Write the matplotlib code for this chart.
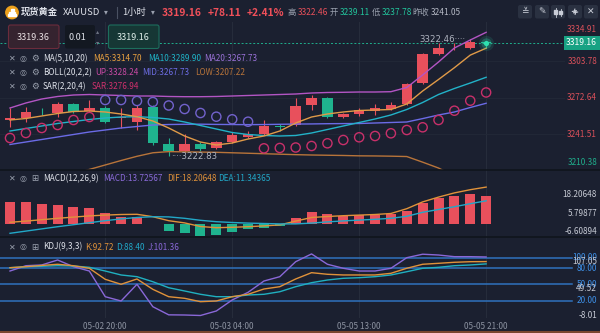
import matplotlib
matplotlib.use("Agg")
import matplotlib.pyplot as plt
import numpy as np
from matplotlib.patches import FancyBboxPatch, Circle, Rectangle
from matplotlib.transforms import blended_transform_factory

plt.rcParams["font.family"] = ["Noto Sans CJK SC", "DejaVu Sans"]

# hourly XAUUSD candles, 05-02 14:00 .. 05-05 21:00
opens = [3253.46, 3255.17, 3261.14, 3259.43, 3267.11, 3261.14, 3263.70, 3255.00,
         3251.76, 3264.55, 3232.99, 3227.02, 3232.99, 3229.58, 3234.70, 3239.11,
         3241.52, 3248.30, 3249.20, 3266.26, 3272.23, 3256.02, 3258.58, 3261.14,
         3262.85, 3267.11, 3285.02, 3309.75, 3314.50, 3314.87, 3319.36]
highs = [3263.70, 3264.55, 3263.70, 3268.81, 3267.60, 3270.52, 3265.50, 3263.70,
         3266.26, 3266.26, 3238.11, 3241.52, 3234.70, 3235.60, 3243.23, 3244.50,
         3253.46, 3250.00, 3272.23, 3274.78, 3273.08, 3259.43, 3263.70, 3267.11,
         3268.81, 3285.02, 3310.60, 3319.14, 3319.50, 3322.46, 3319.60]
lows = [3247.49, 3251.76, 3257.73, 3256.02, 3259.80, 3260.29, 3251.00, 3246.64,
        3244.93, 3232.14, 3222.83, 3226.17, 3227.02, 3228.73, 3233.85, 3237.78,
        3240.67, 3244.10, 3248.34, 3261.99, 3255.17, 3255.17, 3256.87, 3257.73,
        3261.99, 3266.26, 3284.17, 3308.90, 3313.20, 3314.00, 3314.50]
closes = [3255.17, 3260.29, 3260.80, 3267.11, 3260.29, 3263.70, 3251.76, 3255.30,
          3263.70, 3233.85, 3227.02, 3232.99, 3228.73, 3234.70, 3241.05, 3241.30,
          3248.34, 3247.60, 3265.40, 3272.23, 3256.02, 3258.58, 3261.99, 3263.70,
          3266.26, 3284.17, 3309.75, 3314.87, 3315.20, 3319.99, 3319.16]

ma5 = [3253.46, 3254.74, 3256.87, 3259.01, 3260.71, 3261.14, 3260.29, 3258.58,
       3256.28, 3252.61, 3246.64, 3239.81, 3234.70, 3232.14, 3233.85, 3237.26,
       3239.81, 3244.08, 3250.90, 3256.02, 3258.58, 3260.29, 3261.57, 3261.99,
       3262.42, 3267.11, 3278.20, 3288.00, 3298.07, 3308.82, 3314.70]
ma10 = [3244.08, 3246.21, 3248.34, 3250.48, 3252.18, 3253.89, 3255.17, 3256.02,
        3256.28, 3255.59, 3254.31, 3251.76, 3248.77, 3245.79, 3242.80, 3241.09,
        3240.24, 3239.81, 3240.24, 3242.37, 3245.36, 3248.34, 3251.33, 3254.31,
        3257.73, 3262.42, 3268.39, 3275.21, 3280.33, 3285.02, 3289.90]
boll_mid = [3232.57, 3234.70, 3236.83, 3238.96, 3241.09, 3243.23, 3244.93, 3246.64,
            3247.92, 3249.20, 3249.62, 3249.80, 3249.90, 3249.70, 3249.60, 3249.50,
            3249.60, 3249.80, 3250.00, 3250.10, 3250.30, 3250.40, 3250.48, 3250.90,
            3251.33, 3251.76, 3254.66, 3257.73, 3260.29, 3264.12, 3267.73]
boll_up = [3263.70, 3267.96, 3271.37, 3273.51, 3274.78, 3275.21, 3274.78, 3274.36,
           3273.93, 3273.93, 3273.51, 3273.33, 3273.33, 3273.51, 3273.93, 3274.36,
           3274.78, 3275.21, 3275.64, 3276.49, 3276.92, 3277.09, 3277.34, 3277.34,
           3277.60, 3281.18, 3291.84, 3302.93, 3314.87, 3321.69, 3328.24]
boll_low = [3201.4, 3201.4, 3202.3, 3204.4, 3207.4, 3211.3, 3215.1, 3218.9,
            3222.5, 3225.5, 3226.5, 3226.3, 3226.1, 3225.9, 3225.5, 3225.1,
            3224.7, 3224.3, 3223.9, 3223.6, 3223.4, 3223.2, 3222.9, 3222.8,
            3222.6, 3222.3, 3217.5, 3212.5, 3205.7, 3206.6, 3207.22]
sar = [3238.11, 3242.37, 3246.64, 3249.20, 3253.46, 3256.02, 3270.52, 3270.52,
       3269.67, 3268.81, 3265.83, 3262.84, 3259.43, 3256.28, 3254.06, 3252.01,
       3229.30, 3229.60, 3230.00, 3231.29, 3233.59, 3236.40, 3238.71, 3239.81,
       3242.12, 3244.93, 3247.24, 3253.46, 3261.39, 3269.92, 3276.94]

macd_hist = [10.6, 10.6, 9.6, 9.25, 8.4, 7.6, 5.1, 3.4, 3.4, -0.3, -3.75, -4.9,
             -6.1, -5.75, -4.1, -2.9, -2.1, -1.25, 2.9, 5.6, 4.6, 3.9, 4.25, 4.25,
             4.6, 6.25, 10.4, 12.9, 13.75, 14.6, 13.72567]
dif = [0.6, 1.2, 1.9, 2.6, 3.2, 3.8, 4.2, 4.5, 4.6, 3.4, 1.4, 0.3, -1.5, -2.1,
       -1.9, -1.6, -1.2, -0.7, 1.2, 3.0, 3.5, 3.9, 4.2, 4.5, 5.0, 7.4, 10.8, 13.2,
       15.3, 16.9, 18.20648]
dea = [-4.9, -3.8, -2.7, -1.6, -0.6, 0.4, 1.4, 2.3, 3.0, 3.4, 3.3, 2.6, 1.6, 0.9,
       0.5, 0.2, 0.0, -0.2, -0.2, 0.2, 0.8, 1.3, 1.7, 2.1, 2.6, 3.6, 5.6, 7.0, 8.4,
       9.9, 11.34365]

k_line = [81.3, 83.2, 85.5, 87.7, 85.0, 80.2, 59.6, 50.3, 60.2, 40.9, 27.1, 24.1,
          17.8, 19.1, 27.1, 31.6, 41.5, 45.8, 60.2, 72.0, 69.0, 67.7, 67.7, 67.7,
          70.8, 80.2, 87.7, 89.5, 91.4, 92.5, 92.72]
d_line = [81.3, 83.2, 84.0, 85.0, 84.5, 82.0, 75.1, 67.7, 64.5, 55.1, 43.9, 37.8,
          31.6, 27.1, 27.1, 30.3, 31.6, 36.4, 45.8, 53.3, 58.3, 61.5, 62.6, 64.5,
          67.7, 73.8, 80.2, 82.0, 85.0, 86.4, 88.40]
j_line = [75.1, 85.0, 86.4, 95.7, 83.2, 75.1, 27.1, 19.1, 50.3, 8.4, -6.8, -7.1,
          -8.01, 0.4, 21.0, 35.3, 56.4, 64.5, 92.5, 107.05, 87.7, 80.2, 75.1, 75.1,
          80.2, 100.0, 106.5, 105.0, 101.9, 101.9, 101.36]

time_ticks = [6, 14, 22, 30]
time_labels = ["05-02 20:00", "05-03 04:00", "05-05 13:00", "05-05 21:00"]
price_ticks = [3303.78, 3272.64, 3241.51]
kdj_levels = [100, 80, 50, 20]

BG = "#1b2030"
GRID = "#262c3b"
RED = "#e8505c"
GREEN = "#1fb38e"
TXT = "#dfe2ea"
GRAY = "#9aa0ae"
FS = 5.9
W, H = 600, 333


def rect(x0, y0, x1, y1):
    return [x0 / W, 1 - y1 / H, (x1 - x0) / W, (y1 - y0) / H]


def prep(ax):
    ax.set_facecolor(BG)
    ax.set_xlim(-0.63, 34.97)
    for s in ax.spines.values():
        s.set_visible(False)
    ax.set_yticks([])
    ax.set_xticks(time_ticks)
    ax.tick_params(length=0, labelbottom=False)
    for t in time_ticks:
        ax.axvline(t, color=GRID, lw=0.8, zorder=0)


fig = plt.figure(figsize=(6, 3.33), dpi=100, facecolor=BG)
x = np.arange(len(closes))
o, h, l, c = map(np.array, (opens, highs, lows, closes))
up = c >= o
ccol = np.where(up, RED, GREEN)

# ---- price pane
ax = fig.add_axes(rect(0, 22, 565, 169.5))
prep(ax)
ax.set_ylim(3211.24, 3337.05)
for p in price_ticks:
    ax.axhline(p, color="#222837", lw=0.7, zorder=0)
ax.vlines(x, l, h, colors=ccol, lw=0.8, zorder=2)
body = np.maximum(np.abs(c - o), 0.6)
ax.bar(x, body, bottom=np.minimum(o, c), width=0.66, color=ccol, zorder=3)
ax.plot(x, boll_up, color="#b355c4", lw=1.0, zorder=4)
ax.plot(x, boll_low, color="#b8743a", lw=1.0, zorder=4)
ax.plot(x, boll_mid, color="#6b6be6", lw=1.0, zorder=4)
ax.plot(x, ma10, color="#22b2c8", lw=1.0, zorder=4)
ax.plot(x, ma5, color="#e09a48", lw=1.0, zorder=4)
sar = np.array(sar)
scol = np.where(sar < c, "#c8306a", "#7262cc")
ax.scatter(x, sar, s=44, facecolors="none", edgecolors=scol, linewidths=1.0, zorder=5)
ax.axhline(c[-1], color="#1fae8c", lw=0.7, ls=(0, (2, 2)), zorder=1)
for s, a in [(120, 0.12), (55, 0.25), (14, 1.0)]:
    ax.scatter([x[-1]], [c[-1]], s=s, color="#2fe0b0", alpha=a, lw=0, zorder=6)
# high / low markers with dotted leaders
ax.text(x[29] - 0.3, h[29], "%.2f" % h[29] + "····", color="#aeb3bf", fontsize=6.2,
        ha="right", va="center", zorder=7, family=["DejaVu Sans"])
ax.text(x[10] + 0.15, l[10] - 0.5, "····" + "%.2f" % l[10], color="#aeb3bf", fontsize=6.2,
        ha="left", va="center", zorder=7, family=["DejaVu Sans"])
tr = blended_transform_factory(fig.transFigure, ax.transData)
for p in price_ticks:
    ax.text(597 / W, p, "%.2f" % p, transform=tr, color="#d9505a", fontsize=FS,
            ha="right", va="center")
ax.text(597 / W, c[-1], "%.2f" % c[-1], transform=tr, color="white", fontsize=6.2,
        ha="right", va="center",
        bbox=dict(boxstyle="square,pad=0.3", fc="#18a283", ec="none"))

# ---- MACD pane
axm = fig.add_axes(rect(0, 169.5, 565, 236.5))
prep(axm)
axm.set_ylim(-6.5, 27)
hist = np.array(macd_hist)
axm.bar(x, hist, width=0.63, color=np.where(hist >= 0, RED, GREEN), zorder=2)
axm.plot(x, dif, color="#e0923a", lw=1.0, zorder=3)
axm.plot(x, dea, color="#22a8c8", lw=1.0, zorder=3)

# ---- KDJ pane
axk = fig.add_axes(rect(0, 236.5, 565, 318))
prep(axk)
axk.set_ylim(-12.7, 139.6)
for lv in kdj_levels:
    axk.axhline(lv, xmin=0, xmax=572 / 565, color="#2f72bd", lw=1.1, clip_on=False, zorder=1)
axk.plot(x, j_line, color="#8a68d8", lw=1.0, zorder=3)
axk.plot(x, d_line, color="#20b0c0", lw=1.0, zorder=3)
axk.plot(x, k_line, color="#e0923a", lw=1.0, zorder=3)
axk.tick_params(labelbottom=True, labelsize=FS, labelcolor="#8c92a0", pad=3)
axk.set_xticklabels(time_labels)
trk = blended_transform_factory(fig.transFigure, axk.transData)
for lv in kdj_levels:
    axk.text(597 / W, lv, "%.2f" % lv, transform=trk, color="#3d8fe6", fontsize=FS,
             ha="right", va="center")

# ---- overlay: header, legends, axis labels
ov = fig.add_axes([0, 0, 1, 1], zorder=10)
ov.set_xlim(0, W)
ov.set_ylim(H, 0)
ov.axis("off")
ov.patch.set_alpha(0)


def t(xp, yp, s, color=TXT, size=FS, **kw):
    ov.text(xp, yp, s, color=color, fontsize=size, va="center", **kw)


# header row
ov.add_patch(Circle((12, 12.5), 6.2, color="#eea21d"))
for yy, ww in [(10, 3), (12.6, 6), (15.2, 8)]:
    ov.add_patch(Rectangle((12 - ww / 2, yy - 1), ww, 2, color="white"))
t(21, 12.5, "现货黄金", size=6.7, fontweight="bold")
t(62.5, 12.5, "XAUUSD", size=6.9)
t(104, 12.5, "▾", color=GRAY, size=5.5)
ov.plot([116.5, 116.5], [7, 18], color="#4a5162", lw=0.8)
t(122, 12.5, "1小时", size=6.7)
t(151, 12.5, "▾", color=GRAY, size=5.5)
t(162, 12.5, "3319.16", color="#f0505a", size=7.4, fontweight="bold")
t(208, 12.5, "+78.11", color="#f0505a", size=7.4, fontweight="bold")
t(247, 12.5, "+2.41%", color="#f0505a", size=7.4, fontweight="bold")
t(287, 12.5, "高", color=GRAY, size=6.0)
t(298, 12.5, "3322.46", color="#e8505a", size=6.0)
t(330, 12.5, "开", color=GRAY, size=6.0)
t(340, 12.5, "3239.11", color="#22c49c", size=6.0)
t(372, 12.5, "低", color=GRAY, size=6.0)
t(382, 12.5, "3237.78", color="#22c49c", size=6.0)
t(412.5, 12.5, "昨收", color=GRAY, size=6.0)
t(431, 12.5, "3241.05", color="#b4b8c4", size=6.0)

icon_boxes = [(518, 532), (535, 549), (551, 565), (568, 582), (584, 598)]
for x0, x1 in icon_boxes:
    ov.add_patch(FancyBboxPatch((x0, 5), x1 - x0, 13.5, boxstyle="round,pad=0,rounding_size=2",
                                fc="#2a3141", ec="none"))
ic = "#c9cdd7"
ov.text(525, 11.8, "≚", color=ic, fontsize=6.5, ha="center", va="center", family="DejaVu Sans")
ov.text(542, 11.8, "✎", color=ic, fontsize=6.5, ha="center", va="center", family="DejaVu Sans")
# candle icon
for cx, y0, y1, b0, b1 in [(555.5, 7.5, 16.5, 9.5, 14), (560.5, 8.5, 15.5, 10.5, 13.5)]:
    ov.plot([cx, cx], [y0, y1], color=ic, lw=0.6)
    ov.add_patch(Rectangle((cx - 1.3, b0), 2.6, b1 - b0, color=ic))
# expand icon
ov.annotate("", xy=(579, 8), xytext=(571, 15.5),
            arrowprops=dict(arrowstyle="<->,head_length=0.25,head_width=0.15", color=ic, lw=0.8))
ov.text(591, 11.8, "✕", color=ic, fontsize=6.5, ha="center", va="center", family="DejaVu Sans")

# order boxes
ov.add_patch(FancyBboxPatch((8.5, 25), 50.5, 23.5, boxstyle="round,pad=0,rounding_size=2",
                            fc="#35232f", ec="#6b2c3c", lw=0.8))
t(33.5, 37, "3319.36", color="#e8dfe2", size=6.5, ha="center")
ov.add_patch(FancyBboxPatch((65, 25), 30, 23.5, boxstyle="round,pad=0,rounding_size=2",
                            fc="#131821", ec="none"))
t(77, 37, "0.01", size=6.5, ha="center")
t(98, 31.5, "▴", color="#6f7584", size=4.5, ha="center")
t(98, 42, "▾", color="#6f7584", size=4.5, ha="center")
ov.add_patch(FancyBboxPatch((108.5, 25), 50.5, 23.5, boxstyle="round,pad=0,rounding_size=2",
                            fc="#163735", ec="#1d6e5d", lw=0.8))
t(133.5, 37, "3319.16", color="#dfeeea", size=6.5, ha="center")


def legend_row(yp, items, last_icon):
    t(9, yp, "✕", color=GRAY, size=5.8, family="DejaVu Sans")
    t(19.5, yp, "◎", color=GRAY, size=5.8, family="DejaVu Sans")
    t(31, yp, last_icon, color=GRAY, size=6.2, family="DejaVu Sans")
    for xp, s, col in items:
        t(xp, yp, s, color=col)


legend_row(58.5, [(43, "MA(5,10,20)", TXT), (93, "MA5:3314.70", "#e8a040"),
                  (148, "MA10:3289.90", "#1fb4c8"), (204, "MA20:3267.73", "#9a72d8")], "⚙")
legend_row(72.5, [(43, "BOLL(20,2,2)", TXT), (95, "UP:3328.24", "#c94aa5"),
                  (142, "MID:3267.73", "#6d6de4"), (195, "LOW:3207.22", "#b8743a")], "⚙")
legend_row(86.5, [(43, "SAR(2,20,4)", TXT), (92, "SAR:3276.94", "#d0306c")], "⚙")
legend_row(178.5, [(43, "MACD(12,26,9)", TXT), (103, "MACD:13.72567", "#8a6ad8"),
                   (167, "DIF:18.20648", "#e0923a"), (218, "DEA:11.34365", "#22a8c8")], "⊞")
legend_row(247, [(43, "KDJ(9,3,3)", TXT), (85, "K:92.72", "#e0923a"),
                 (116, "D:88.40", "#22a8c8"), (148, "J:101.36", "#8a68d8")], "⊞")

# price axis extremes
t(597, 30, "3334.91", color="#d9505a", ha="right")
t(597, 162.5, "3210.38", color="#1fae8c", ha="right")
# MACD axis
for yp, s in [(194.3, "18.20648"), (213.3, "5.79877"), (231, "-6.60894")]:
    t(597, yp, s, color="#c6cad4", ha="right")
# KDJ axis extremes (they sit on top of the level labels)
for yp, s in [(261.5, "107.05"), (288.5, "49.52"), (315, "-8.01")]:
    t(597, yp, s, color="#c6cad4", ha="right")

# pane separators and bottom border
for yp in (169.5, 236.5):
    ov.plot([0, W], [yp, yp], color="#10141c", lw=1.2)
ov.plot([0, W], [332.3, 332.3], color="#7a4630", lw=1.5)

fig.savefig("out.png", dpi=100, facecolor=BG)
